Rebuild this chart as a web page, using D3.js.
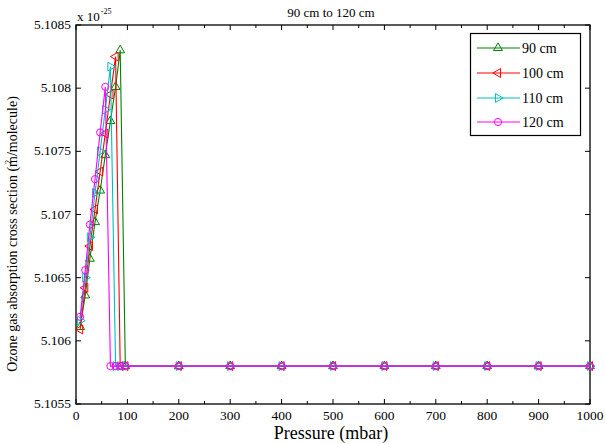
<!DOCTYPE html>
<html>
<head>
<meta charset="utf-8">
<script src="https://cdn.jsdelivr.net/npm/d3@7"></script>
<style>
  body { margin: 0; background: #fff; }
  svg text { font-family: "Liberation Serif", Tinos, "Times New Roman", Times, serif; }
</style>
</head>
<body>
<svg id="chart" width="605" height="444" font-family="Liberation Serif, Times New Roman, serif"></svg>
<script>
// Pressure grid (mbar)
const pressures = [8, 18, 27, 37, 47, 57, 67, 77, 86, 96, 200, 300, 400, 500, 600, 700, 800, 900, 1000];
// Cross section values (x 1e-25 m^2/molecule)
const s90  = [5.10611, 5.10636, 5.10665, 5.10694, 5.10719, 5.10747, 5.10774, 5.10801, 5.10830, 5.1058, 5.1058, 5.1058, 5.1058, 5.1058, 5.1058, 5.1058, 5.1058, 5.1058, 5.1058];
const s100 = [5.10609, 5.10642, 5.10675, 5.10704, 5.10734, 5.10764, 5.10795, 5.10825, 5.1058, 5.1058, 5.1058, 5.1058, 5.1058, 5.1058, 5.1058, 5.1058, 5.1058, 5.1058, 5.1058];
const s110 = [5.10616, 5.10650, 5.10682, 5.10717, 5.10750, 5.10783, 5.10817, 5.1058, 5.1058, 5.1058, 5.1058, 5.1058, 5.1058, 5.1058, 5.1058, 5.1058, 5.1058, 5.1058, 5.1058];
const s120 = [5.10619, 5.10656, 5.10692, 5.10728, 5.10765, 5.10801, 5.1058, 5.1058, 5.1058, 5.1058, 5.1058, 5.1058, 5.1058, 5.1058, 5.1058, 5.1058, 5.1058, 5.1058, 5.1058];
const seriesNames = ["90 cm", "100 cm", "110 cm", "120 cm"];
const seriesColors = ["#008000", "#ff0000", "#00bfbf", "#ff00ff"];
const seriesMarkers = ["up", "left", "right", "circle"];
const xTicks = [0, 100, 200, 300, 400, 500, 600, 700, 800, 900, 1000];
const yTicks = [5.1055, 5.106, 5.1065, 5.107, 5.1075, 5.108, 5.1085];
const yTickLabels = ["5.1055", "5.106", "5.1065", "5.107", "5.1075", "5.108", "5.1085"];

const FONT = "'Liberation Serif', Tinos, 'Times New Roman', Times, serif";
const svg = d3.select("#chart");
const L = 76, R = 590, T = 25, B = 404;
const x = d3.scaleLinear().domain([0, 1000]).range([L, R]);
const y = d3.scaleLinear().domain([5.1055, 5.1085]).range([B, T]);

// Axes with inward ticks
const xMinor = d3.range(0, 1001, 50);
const tickLen = 5, minorLen = 3;
const g = svg.append("g");

xMinor.forEach(v => {
  const isMajor = v % 100 === 0;
  const len = isMajor ? tickLen : minorLen;
  g.append("line").attr("x1", x(v)).attr("x2", x(v)).attr("y1", B).attr("y2", B - len).attr("stroke", "#000");
  g.append("line").attr("x1", x(v)).attr("x2", x(v)).attr("y1", T).attr("y2", T + len).attr("stroke", "#000");
});
yTicks.forEach(v => {
  g.append("line").attr("x1", L).attr("x2", L + tickLen).attr("y1", y(v)).attr("y2", y(v)).attr("stroke", "#000");
  g.append("line").attr("x1", R).attr("x2", R - tickLen).attr("y1", y(v)).attr("y2", y(v)).attr("stroke", "#000");
});

xTicks.forEach(v => {
  g.append("text").attr("x", x(v)).attr("y", 420).attr("text-anchor", "middle")
    .attr("font-family", FONT).attr("font-size", 13.5).text(v);
});
yTicks.forEach((v, i) => {
  g.append("text").attr("x", 71).attr("y", y(v) + 4).attr("text-anchor", "end")
    .attr("font-family", FONT).attr("font-size", 13.5).text(yTickLabels[i]);
});

// Frame
svg.append("rect").attr("x", L).attr("y", T).attr("width", R - L).attr("height", B - T)
  .attr("fill", "none").attr("stroke", "#000").attr("stroke-width", 1.3);

// Exponent
const ex = svg.append("text").attr("x", 77).attr("y", 21).attr("font-family", FONT).attr("font-size", 13);
ex.append("tspan").text("x 10");
ex.append("tspan").attr("dy", -7).attr("font-size", 8).attr("dx", 1).text("-25");

// Title
svg.append("text").attr("x", 331).attr("y", 17).attr("text-anchor", "middle")
  .attr("font-family", FONT).attr("font-size", 13).text("90 cm to 120 cm");

// X label
svg.append("text").attr("x", 331).attr("y", 439).attr("text-anchor", "middle")
  .attr("font-family", FONT).attr("font-size", 18).text("Pressure (mbar)");

// Y label
const yl = svg.append("text").attr("transform", "translate(17,234) rotate(-90)")
  .attr("text-anchor", "middle").attr("font-family", FONT).attr("font-size", 14);
yl.append("tspan").text("Ozone gas absorption cross section (m");
yl.append("tspan").attr("dx", -8).attr("dy", -6).attr("font-size", 8).text("2");
yl.append("tspan").attr("dx", 4).attr("dy", 6).text("/molecule)");

// Marker drawing
function marker(sel, type, color, cx, cy) {
  if (type === "circle") {
    sel.append("circle").attr("cx", cx).attr("cy", cy).attr("r", 3.6)
      .attr("fill", "none").attr("stroke", color).attr("stroke-width", 1);
  } else {
    const rot = type === "up" ? 0 : (type === "left" ? -90 : 90);
    sel.append("path").attr("d", d3.symbol().type(d3.symbolTriangle).size(34)())
      .attr("transform", `translate(${cx},${cy}) rotate(${rot})`)
      .attr("fill", "none").attr("stroke", color).attr("stroke-width", 1);
  }
}

const allSeries = [s90, s100, s110, s120];
const line = d3.line().x((d, i) => x(pressures[i])).y(d => y(d));
const plot = svg.append("g");
allSeries.forEach((s, k) => {
  plot.append("path").attr("d", line(s)).attr("fill", "none")
    .attr("stroke", seriesColors[k]).attr("stroke-width", 1.1);
  s.forEach((v, i) => marker(plot, seriesMarkers[k], seriesColors[k], x(pressures[i]), y(v)));
});

// Legend
const lg = svg.append("g");
lg.append("rect").attr("x", 470.5).attr("y", 33.5).attr("width", 110).attr("height", 102)
  .attr("fill", "#fff").attr("stroke", "#000").attr("stroke-width", 1.2);
const legY = [48, 73, 98, 122];
seriesNames.forEach((n, k) => {
  lg.append("line").attr("x1", 477).attr("x2", 520).attr("y1", legY[k]).attr("y2", legY[k])
    .attr("stroke", seriesColors[k]).attr("stroke-width", 1.1);
  marker(lg, seriesMarkers[k], seriesColors[k], 498, legY[k]);
  lg.append("text").attr("x", 522).attr("y", legY[k] + 5).attr("font-family", FONT)
    .attr("font-size", 14).text(n);
});
</script>
</body>
</html>
